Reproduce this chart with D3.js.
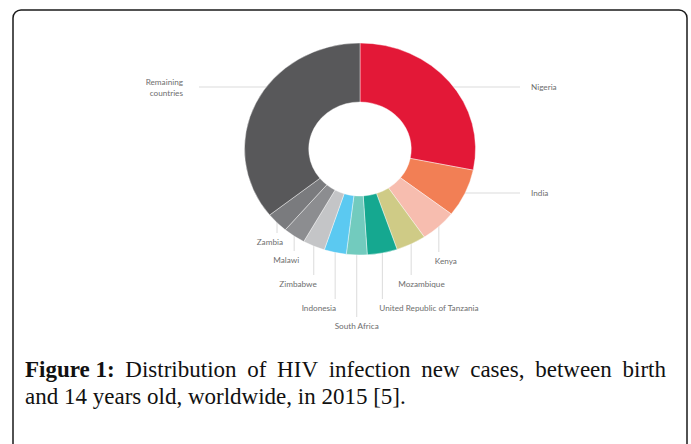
<!DOCTYPE html>
<html><head><meta charset="utf-8">
<script src="https://cdn.jsdelivr.net/npm/d3@7"></script>
<style>
html,body{margin:0;padding:0;background:#fff;}
svg{display:block;}
</style></head>
<body>
<svg id="c" width="691" height="444"></svg>
<script>
// ---- data ----
const countries = ["Nigeria","India","Kenya","Mozambique","United Republic of Tanzania","South Africa","Indonesia","Zimbabwe","Malawi","Zambia","Remaining countries"];
const shares = [28.2, 7.3, 5.1, 4.2, 4.2, 2.9, 3.1, 3.1, 3.1, 3.1, 35.7];
const colors = ["#e31837","#f27f55","#f7bdaf","#cfcb86","#15a890","#72cbbe","#5bc9f1","#c4c5c7","#8c8d90","#7a7b7e","#58585a"];
const captionLines = [
  ["Figure 1:", "Distribution of HIV infection new cases, between birth"],
  ["", "and 14 years old, worldwide, in 2015 [5]."]
];

// ---- label layout (positions, not data) ----
const labelLayout = [
  {kind:"h", side:"right", y:87},
  {kind:"h", side:"right", y:193},
  {kind:"v", y:261, anchor:"start", dx:-4},
  {kind:"v", y:284, anchor:"start", dx:-13},
  {kind:"v", y:308, anchor:"start", dx:-3},
  {kind:"v", y:326, anchor:"middle", dx:0},
  {kind:"v", y:308, anchor:"end", dx:1},
  {kind:"v", y:284, anchor:"end", dx:3},
  {kind:"v", y:260, anchor:"end", dx:5},
  {kind:"v", y:242, anchor:"end", dx:6},
  {kind:"h", side:"left", y:87}
];

const svg = d3.select("#c");
const cx = 360, cy = 149, rOuter = 106, rInner = 47, sx = 1.09;

// frame
svg.append("rect").attr("x",13).attr("y",10).attr("width",674).attr("height",460)
  .attr("rx",8).attr("ry",8).attr("fill","none").attr("stroke","#1a1a1a").attr("stroke-width",1.5);

const data = countries.map((c,i)=>({name:c, value:shares[i], color:colors[i], layout:labelLayout[i]}));
const pie = d3.pie().value(d=>d.value).sort(null);
const arcs = pie(data);
const arc = d3.arc().innerRadius(rInner).outerRadius(rOuter);

const lineColor = "#d2d2d2";
const labelG = svg.append("g");

// leader lines first (behind donut)
arcs.forEach(a=>{
  const L = a.data.layout;
  const mid = (a.startAngle + a.endAngle)/2;
  if (L.kind === "h") {
    const dy = L.y - cy;
    const ex = sx*rOuter*Math.sqrt(Math.max(0,1-(dy/rOuter)**2));
    if (L.side === "right") {
      labelG.append("line").attr("x1",cx+ex-2).attr("x2",520).attr("y1",L.y).attr("y2",L.y)
        .attr("stroke",lineColor).attr("stroke-width",0.8);
    } else {
      labelG.append("line").attr("x1",199).attr("x2",cx-ex+2).attr("y1",L.y).attr("y2",L.y)
        .attr("stroke",lineColor).attr("stroke-width",0.8);
    }
  } else {
    const x = cx + sx*rOuter*Math.sin(mid);
    const y0 = cy - rOuter*Math.cos(mid);
    labelG.append("line").attr("x1",x).attr("x2",x).attr("y1",y0-2).attr("y2",L.y-9)
      .attr("stroke",lineColor).attr("stroke-width",0.8);
  }
});

const g = svg.append("g").attr("transform",`translate(${cx},${cy}) scale(${sx},1)`);
g.selectAll("path").data(arcs).join("path")
  .attr("d",arc).attr("fill",d=>d.data.color)
  .attr("stroke","#ffffff").attr("stroke-width",0.4);

// labels
const fontFam = "Lato, 'Open Sans', sans-serif";
const fs = 8.2, labelFill = "#6e6e6e";
arcs.forEach(a=>{
  const L = a.data.layout;
  const mid = (a.startAngle + a.endAngle)/2;
  if (L.kind === "h") {
    if (L.side === "right") {
      labelG.append("text").attr("x",531).attr("y",L.y+3).text(a.data.name)
        .attr("font-family",fontFam).attr("font-size",fs).attr("fill",labelFill);
    } else {
      const words = a.data.name.split(" ");
      const t = labelG.append("text").attr("text-anchor","end")
        .attr("font-family",fontFam).attr("font-size",fs).attr("fill",labelFill);
      t.append("tspan").attr("x",183).attr("y",L.y-2.3).text(words[0]);
      t.append("tspan").attr("x",183).attr("y",L.y+8.5).text(words.slice(1).join(" "));
    }
  } else {
    const x = cx + sx*rOuter*Math.sin(mid);
    labelG.append("text").attr("x",x+L.dx).attr("y",L.y+3).attr("text-anchor",L.anchor)
      .text(a.data.name).attr("font-family",fontFam).attr("font-size",fs).attr("fill",labelFill);
  }
});

// caption (justified first line)
const capFs = 23;
const capG = svg.append("g").attr("font-family","'Liberation Serif', 'Times New Roman', serif")
  .attr("font-size",capFs).attr("fill","#111");
const x0 = 25, x1 = 666, baselines = [377, 404];
captionLines.forEach((ln,li)=>{
  const tokens = [];
  if (ln[0]) tokens.push({t:ln[0], bold:true});
  ln[1].split(" ").forEach(w=>tokens.push({t:w, bold:false}));
  const nodes = tokens.map(tok=>{
    const el = capG.append("text").attr("y",baselines[li]).text(tok.t)
      .attr("font-weight", tok.bold ? "bold" : "normal");
    return {el, w: el.node().getComputedTextLength()};
  });
  const total = d3.sum(nodes, n=>n.w);
  let gap;
  if (li === 0) gap = (x1 - x0 - total)/(nodes.length-1);
  else gap = capFs*0.25;
  let x = x0;
  nodes.forEach(n=>{ n.el.attr("x",x); x += n.w + gap; });
});
</script>
</body></html>
